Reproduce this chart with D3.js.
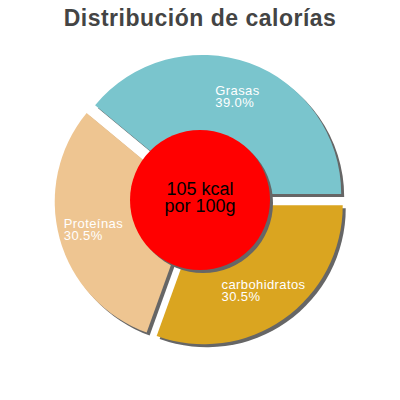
<!DOCTYPE html>
<html>
<head>
<meta charset="utf-8">
<script src="https://cdn.jsdelivr.net/npm/d3@7"></script>
<style>
  html, body { margin: 0; padding: 0; background: #fff; }
  svg { display: block; }
</style>
</head>
<body>
<svg id="chart" width="400" height="400"></svg>
<script>
// data
const categories = ['Grasas', 'Proteínas', 'carbohidratos'];
const percents = [39.0, 30.5, 30.5];
const sliceColors = ['#7AC5CD', '#EEC591', '#DAA520'];
const centerLines = ['105 kcal', 'por 100g'];
const title = 'Distribución de calorías';

(function(){
  const svg = d3.select('#chart');
  const cx = 200, cy = 200;
  const R = 139, explode = 6.5, shadowOff = 3;

  svg.append('text')
    .attr('x', 200).attr('y', 26)
    .attr('text-anchor', 'middle')
    .style('font-family', 'Liberation Sans, Arial, sans-serif')
    .style('font-size', '23px').style('font-weight', 'bold')
    .style('letter-spacing', '0.5px')
    .style('fill', '#444')
    .text(title);

  const data = categories.map((c, i) => ({name: c, value: percents[i], color: sliceColors[i]}));

  // counter-clockwise from 3 o'clock
  const pie = d3.pie().value(d => d.value).sort(null)
    .startAngle(Math.PI / 2).endAngle(Math.PI / 2 - 2 * Math.PI);
  const arcs = pie(data);
  const arc = d3.arc().innerRadius(0).outerRadius(R);

  const shift = d => {
    const m = (d.startAngle + d.endAngle) / 2;
    return [Math.sin(m) * explode, -Math.cos(m) * explode];
  };

  const g = svg.append('g').attr('transform', `translate(${cx},${cy})`);

  // shadows first
  g.selectAll('path.shadow').data(arcs).join('path')
    .attr('class', 'shadow')
    .attr('d', arc)
    .attr('fill', '#666')
    .attr('transform', d => { const [x, y] = shift(d); return `translate(${x + shadowOff},${y + shadowOff})`; });

  g.selectAll('path.slice').data(arcs).join('path')
    .attr('class', 'slice')
    .attr('d', arc)
    .attr('fill', d => d.data.color)
    .attr('transform', d => { const [x, y] = shift(d); return `translate(${x},${y})`; });

  // labels: two-line block centred on a point along the slice mid angle
  const labelR = 104;
  arcs.forEach(d => {
    const m = (d.startAngle + d.endAngle) / 2;
    const [sx, sy] = shift(d);
    const px = sx + Math.sin(m) * labelR;
    const py = sy - Math.cos(m) * labelR;
    const t = g.append('text')
      .style('font-family', 'Liberation Sans, Arial, sans-serif')
      .style('font-size', '13px')
      .style('letter-spacing', '0.4px')
      .style('fill', '#fff');
    const lines = [d.data.name, d.data.value.toFixed(1) + '%'];
    const spans = lines.map((s, i) => t.append('tspan').attr('x', 0).attr('y', i * 12).text(s));
    const w = d3.max(spans, s => s.node().getComputedTextLength());
    spans.forEach((s, i) => s.attr('x', px - w / 2).attr('y', py - 1 + i * 12));
  });

  // centre circle
  g.append('circle').attr('cx', shadowOff).attr('cy', shadowOff).attr('r', 70).attr('fill', '#666');
  g.append('circle').attr('r', 70).attr('fill', 'red');
  g.append('text')
    .attr('text-anchor', 'middle')
    .style('font-family', 'Liberation Sans, Arial, sans-serif')
    .style('font-size', '18px')
    .style('fill', '#000')
    .selectAll('tspan').data(centerLines).join('tspan')
    .attr('x', 0)
    .attr('y', (d, i) => -5 + i * 17)
    .text(d => d);
})();
</script>
</body>
</html>
